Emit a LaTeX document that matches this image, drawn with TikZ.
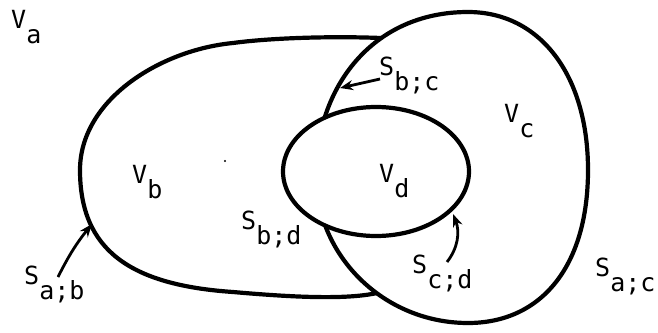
\documentclass[tikz,border=0pt]{standalone}
\usepackage{fontspec}
\setmonofont{DejaVu Sans Mono}
\usetikzlibrary{arrows.meta}
\newcommand{\sublab}[2]{#1\raisebox{-15pt}{#2}}
\tikzset{
  region/.style={line width=4.2pt, line join=round},
  lab/.style={anchor=base west, inner sep=0pt, font=\ttfamily\fontsize{25}{25}\selectfont},
  pointer/.style={line width=2.8pt, -{Stealth[length=13pt,width=10pt]}},
}
\begin{document}
\begin{tikzpicture}[x=1pt,y=-1pt]
\useasboundingbox[fill=white] (0,0) rectangle (658,332);
% region C
\draw[region] (468,12) .. controls (540,12) and (588,75) .. (588,170)
  .. controls (588,268) and (540,323) .. (468,323)
  .. controls (384,323) and (316,256) .. (316,175)
  .. controls (316,88) and (372,12) .. cycle;
% region D
\draw[region, fill=white] (376,171.5) ellipse [x radius=93, y radius=64.5];
% region B
\draw[region] (381,38) .. controls (330,36) and (270,38) .. (233,43)
  .. controls (160,50) and (80,100) .. (80,170)
  .. controls (80,250) and (130,285) .. (233,292)
  .. controls (290,297) and (345,300) .. (377,293);
\fill (225,161) circle (1.2);
% labels
\node[lab] (va)  at (11,28)   {\sublab{V}{a}};
\node[lab] (sbc) at (379,75)  {\sublab{S}{b;c}};
\node[lab] (vc)  at (504,122) {\sublab{V}{c}};
\node[lab] (vb)  at (132,183) {\sublab{V}{b}};
\node[lab] (vd)  at (379,182) {\sublab{V}{d}};
\node[lab] (sbd) at (241,229) {\sublab{S}{b;d}};
\node[lab] (sab) at (24,284)  {\sublab{S}{a;b}};
\node[lab] (scd) at (412,273) {\sublab{S}{c;d}};
\node[lab] (sac) at (595,276) {\sublab{S}{a;c}};
% pointers
\coordinate (fbc) at (380,79);  \coordinate (tbc) at (340,88);
\coordinate (fab) at (58,277);  \coordinate (tab) at (92,224);
\coordinate (fcd) at (447,262); \coordinate (tcd) at (453,214);
\draw[pointer] (fbc) -- (tbc);
\draw[pointer] (fab) to[bend left=6] (tab);
\draw[pointer] (fcd) .. controls (458,248) and (460,232) .. (tcd);
\end{tikzpicture}
\end{document}
